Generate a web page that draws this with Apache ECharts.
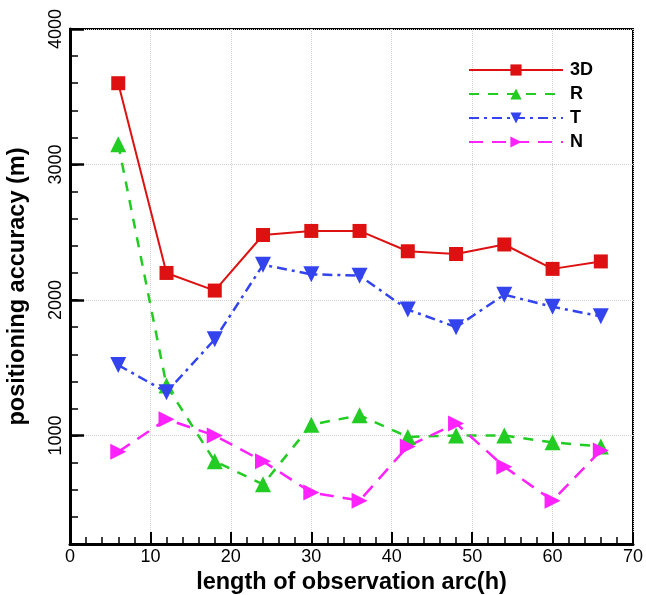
<!DOCTYPE html>
<html>
<head>
<meta charset="utf-8">
<script src="https://cdn.jsdelivr.net/npm/echarts@6/dist/echarts.min.js"></script>
<style>
  html, body { margin: 0; padding: 0; background: #fff; }
  #chart { width: 646px; height: 595px; }
</style>
</head>
<body>
<div id="chart"></div>
<script>
// observation arc lengths (hours)
const arcHours = [6, 12, 18, 24, 30, 36, 42, 48, 54, 60, 66];
// positioning accuracy per component (m)
const acc3D = [3600, 2200, 2070, 2480, 2510, 2510, 2360, 2340, 2410, 2230, 2285];
const accR  = [3150, 1370, 810, 640, 1080, 1150, 990, 1000, 1000, 950, 920];
const accT  = [1520, 1320, 1710, 2260, 2190, 2180, 1930, 1800, 2040, 1950, 1880];
const accN  = [880, 1120, 1000, 810, 580, 520, 920, 1090, 770, 520, 890];
// labelled y ticks
const yMajor = [1000, 2000, 3000, 4000];

const FONT = '"Liberation Sans", Arial, sans-serif';
const pair = (ys) => arcHours.map((x, i) => [x, ys[i]]);

const chart = echarts.init(document.getElementById('chart'), null, { renderer: 'canvas' });

function lineSeries(name, ys, color, dash, symbol, rotate, size, width) {
  return {
    name, type: 'line', data: pair(ys), yAxisIndex: 0,
    symbol, symbolSize: size, symbolRotate: rotate,
    itemStyle: { color, opacity: 1 },
    lineStyle: { color, width, type: dash },
    emphasis: { disabled: true },
    animation: false, z: 5
  };
}

chart.setOption({
  backgroundColor: '#fff',
  animation: false,
  grid: {
    left: 70, right: 13, top: 29, bottom: 51,
    outerBoundsMode: 'none', containLabel: false,
    show: true, borderColor: '#000', borderWidth: 2, backgroundColor: 'transparent'
  },
  legend: {
    orient: 'vertical', left: 463, top: 56,
    itemWidth: 94, itemHeight: 14, itemGap: 6,
    textStyle: { fontFamily: FONT, fontWeight: 'bold', fontSize: 18, lineHeight: 18, color: '#000', padding: [0, 0, 0, 2] },
    data: ['3D', 'R', 'T', 'N']
  },
  xAxis: {
    type: 'value', min: 0, max: 70, interval: 10,
    name: 'length of observation arc(h)', nameLocation: 'middle', nameGap: 25,
    nameTextStyle: { fontFamily: FONT, fontWeight: 'bold', fontSize: 23.5, color: '#000' },
    axisLine: { show: true, onZero: false, lineStyle: { color: '#000', width: 3 } },
    axisTick: { show: true, inside: true, length: 12, lineStyle: { color: '#000', width: 2 } },
    minorTick: { show: true, splitNumber: 5, length: 7, lineStyle: { color: '#000', width: 1.5 } },
    axisLabel: { fontFamily: FONT, fontSize: 18, color: '#000', margin: 4 },
    splitLine: { show: true, lineStyle: { color: '#d0d0d0', type: 'dotted', width: 1 } }
  },
  yAxis: [
    {
      type: 'value', min: 200, max: 4000, interval: 200,
      name: 'positioning accuracy (m)', nameLocation: 'middle', nameGap: 40,
      nameTextStyle: { fontFamily: FONT, fontWeight: 'bold', fontSize: 23.5, color: '#000', padding: [0, 0, 0, 0] },
      axisLine: { show: true, onZero: false, lineStyle: { color: '#000', width: 3 } },
      axisTick: { show: true, inside: true, length: 8, lineStyle: { color: '#000', width: 1.5 } },
      axisLabel: {
        fontFamily: FONT, fontSize: 18, color: '#000', rotate: 90, margin: 5,
        formatter: (v) => (v % 1000 === 0 ? String(v) : '')
      },
      splitLine: { show: false }
    },
    {
      type: 'value', min: 200, max: 4000, position: 'left',
      axisLine: { show: false },
      axisTick: { show: true, inside: true, length: 14, customValues: yMajor, lineStyle: { color: '#000', width: 2.5 } },
      axisLabel: { show: false, customValues: yMajor },
      splitLine: { show: true, lineStyle: { color: '#d0d0d0', type: 'dotted', width: 1 } }
    }
  ],
  series: [
    lineSeries('3D', acc3D, '#dd1111', 'solid', 'rect', 0, 14, 2),
    lineSeries('R', accR, '#22cc22', [10, 9], 'triangle', 0, 16, 2.5),
    lineSeries('T', accT, '#3344ee', [10, 5, 3, 5], 'triangle', 180, 16, 2.5),
    lineSeries('N', accN, '#ff22ff', [14, 9], 'triangle', -90, 16, 2.5)
  ]
});
</script>
</body>
</html>
